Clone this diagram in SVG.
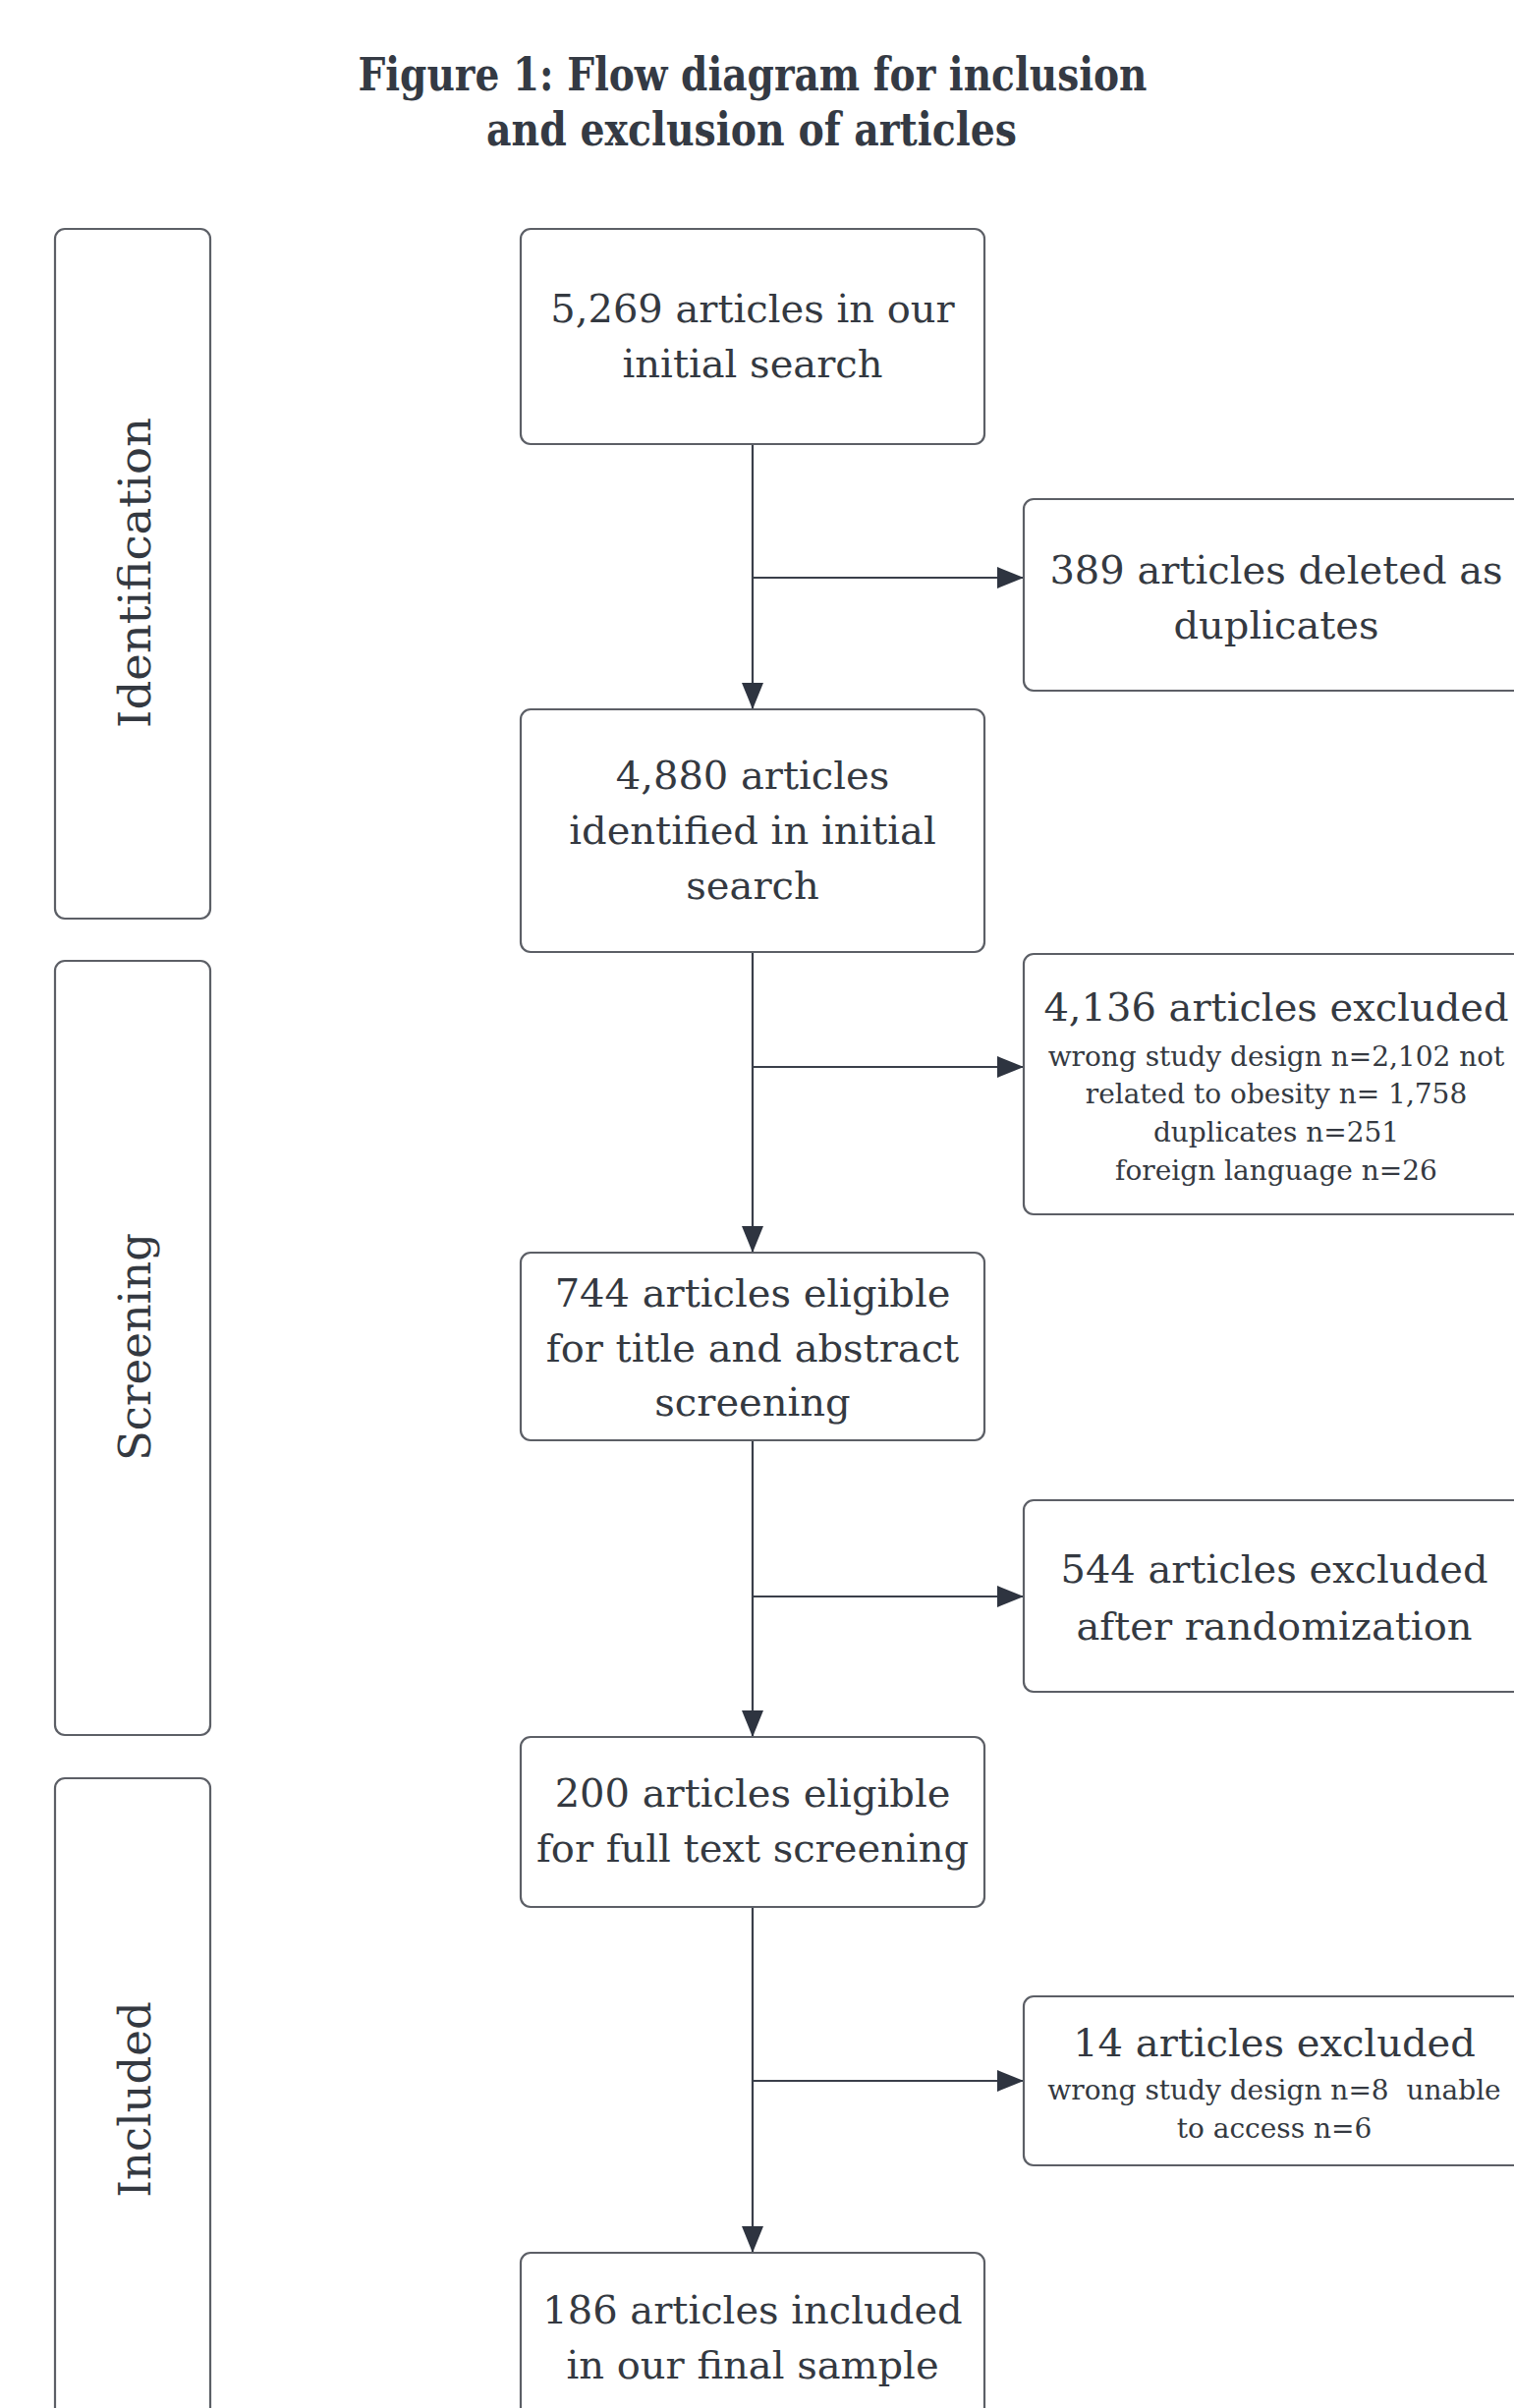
<svg xmlns="http://www.w3.org/2000/svg" width="1541" height="2451" viewBox="0 0 1541 2451">
<style>
.bg{fill:#ffffff}
.box{fill:#ffffff;stroke:#5c5f66;stroke-width:2.2}
.t{font-family:"DejaVu Serif","Liberation Serif",serif;font-size:40px;fill:#343941;text-anchor:middle}
.s{font-family:"DejaVu Serif","Liberation Serif",serif;font-size:28px;fill:#343941;text-anchor:middle;white-space:pre}
.ph{font-family:"DejaVu Serif","Liberation Serif",serif;font-size:45px;fill:#343941;text-anchor:middle}
.title{font-family:"DejaVu Serif","Liberation Serif",serif;font-size:46px;font-weight:bold;fill:#343a44;text-anchor:middle}
.c{fill:none;stroke:#3a3f4a;stroke-width:2.2}
</style>
<defs>
<marker id="ah" markerUnits="userSpaceOnUse" markerWidth="30" markerHeight="24" refX="27" refY="12" orient="auto">
<path d="M0,1 L27,12 L0,23 z" fill="#2e3440"/>
</marker>
</defs>
<rect class="bg" x="0" y="0" width="1541" height="2451"/>
<g id="title">
<text class="title" x="766" y="92" textLength="803" lengthAdjust="spacingAndGlyphs">Figure 1: Flow diagram for inclusion</text>
<text class="title" x="765" y="148" textLength="540" lengthAdjust="spacingAndGlyphs">and exclusion of articles</text>
</g>
<g id="phase-identification">
<rect class="box" x="56" y="233" width="158" height="702" rx="10"/>
<text class="ph" transform="translate(153,583) rotate(-90)" textLength="316" lengthAdjust="spacingAndGlyphs">Identification</text>
</g>
<g id="phase-screening">
<rect class="box" x="56" y="978" width="158" height="788" rx="10"/>
<text class="ph" transform="translate(153,1371) rotate(-90)">Screening</text>
</g>
<g id="phase-included">
<rect class="box" x="56" y="1810" width="158" height="700" rx="10"/>
<text class="ph" transform="translate(153,2137) rotate(-90)">Included</text>
</g>
<g id="connectors">
<line class="c" x1="766" y1="452" x2="766" y2="722" marker-end="url(#ah)"/>
<line class="c" x1="766" y1="588" x2="1042" y2="588" marker-end="url(#ah)"/>
<line class="c" x1="766" y1="969" x2="766" y2="1275" marker-end="url(#ah)"/>
<line class="c" x1="766" y1="1086" x2="1042" y2="1086" marker-end="url(#ah)"/>
<line class="c" x1="766" y1="1466" x2="766" y2="1768" marker-end="url(#ah)"/>
<line class="c" x1="766" y1="1625" x2="1042" y2="1625" marker-end="url(#ah)"/>
<line class="c" x1="766" y1="1941" x2="766" y2="2293" marker-end="url(#ah)"/>
<line class="c" x1="766" y1="2118" x2="1042" y2="2118" marker-end="url(#ah)"/>
</g>
<g id="n1">
<rect class="box" x="530" y="233" width="472" height="219" rx="10"/>
<text class="t" x="766" y="328">5,269 articles in our</text>
<text class="t" x="766" y="384">initial search</text>
</g>
<g id="n2">
<rect class="box" x="530" y="722" width="472" height="247" rx="10"/>
<text class="t" x="766" y="803">4,880 articles</text>
<text class="t" x="766" y="859">identified in initial</text>
<text class="t" x="766" y="915">search</text>
</g>
<g id="n3">
<rect class="box" x="530" y="1275" width="472" height="191" rx="10"/>
<text class="t" x="766" y="1330">744 articles eligible</text>
<text class="t" x="766" y="1386">for title and abstract</text>
<text class="t" x="766" y="1441">screening</text>
</g>
<g id="n4">
<rect class="box" x="530" y="1768" width="472" height="173" rx="10"/>
<text class="t" x="766" y="1839">200 articles eligible</text>
<text class="t" x="766" y="1895">for full text screening</text>
</g>
<g id="n5">
<rect class="box" x="530" y="2293" width="472" height="220" rx="10"/>
<text class="t" x="766" y="2365">186 articles included</text>
<text class="t" x="766" y="2421">in our final sample</text>
</g>
<g id="r1">
<rect class="box" x="1042" y="508" width="530" height="195" rx="10"/>
<text class="t" x="1299" y="594">389 articles deleted as</text>
<text class="t" x="1299" y="650">duplicates</text>
</g>
<g id="r2">
<rect class="box" x="1042" y="971" width="530" height="265" rx="10"/>
<text class="t" x="1299" y="1039">4,136 articles excluded</text>
<text class="s" x="1299" y="1085">wrong study design n=2,102 not</text>
<text class="s" x="1299" y="1123">related to obesity n= 1,758</text>
<text class="s" x="1299" y="1162">duplicates n=251</text>
<text class="s" x="1299" y="1201">foreign language n=26</text>
</g>
<g id="r3">
<rect class="box" x="1042" y="1527" width="530" height="195" rx="10"/>
<text class="t" x="1297" y="1611">544 articles excluded</text>
<text class="t" x="1297" y="1669">after randomization</text>
</g>
<g id="r4">
<rect class="box" x="1042" y="2032" width="530" height="172" rx="10"/>
<text class="t" x="1297" y="2093">14 articles excluded</text>
<text class="s" x="1297" y="2137" xml:space="preserve">wrong study design n=8  unable</text>
<text class="s" x="1297" y="2176">to access n=6</text>
</g>
</svg>
